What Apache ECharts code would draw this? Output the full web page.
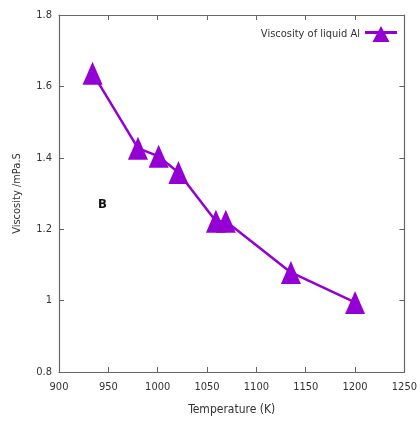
<!DOCTYPE html>
<html><head><meta charset="utf-8">
<script src="https://cdn.jsdelivr.net/npm/echarts@6/dist/echarts.min.js"></script>
<style>html,body{margin:0;padding:0;background:#fff}#c{width:420px;height:425px}</style>
</head><body><div id="c"></div>
<script>
const temperature = [934, 980, 1001, 1021, 1059, 1069, 1135, 1200];
const viscosity = [1.637, 1.427, 1.404, 1.359, 1.222, 1.222, 1.079, 0.995];
const seriesName = 'Viscosity of liquid Al';
const xTitle = 'Temperature (K)';
const yTitle = 'Viscosity /mPa.S';

const font = '"DejaVu Sans Condensed","DejaVu Sans",sans-serif';
const axisCol = '#666';
const purple = '#9400D3';
const chart = echarts.init(document.getElementById('c'));
const data = temperature.map((t, i) => [t, viscosity[i]]);
const hiddenAxis = {show: true, axisLine:{show:true, lineStyle:{color:axisCol, width:1.2}},
  axisTick:{show:true, inside:true, length:5, lineStyle:{color:axisCol}},
  axisLabel:{show:false}, splitLine:{show:false}};
chart.setOption({
  animation:false,
  grid:{left:59, right:14, top:15, bottom:53},
  legend:{show:true, right:18, top:21, align:'right', itemWidth:32, itemHeight:16,
    textStyle:{fontFamily:font, fontSize:11, color:'#333'},
    data:[{name:seriesName, icon:'path://M16,0 L24.5,16 L7.5,16 Z M0,5 L32,5 L32,8 L0,8 Z'}]},
  xAxis:[
    {type:'value', min:900, max:1250, interval:50, name:xTitle, nameLocation:'middle', nameGap:32,
     nameTextStyle:{fontFamily:font, fontSize:12, color:'#333'},
     axisLine:{show:true, lineStyle:{color:axisCol, width:1.2}},
     axisTick:{show:true, inside:true, length:5, lineStyle:{color:axisCol}},
     axisLabel:{fontFamily:font, fontSize:11, color:'#333', margin:10, formatter:v => String(v)},
     splitLine:{show:false}},
    Object.assign({type:'value', min:900, max:1250, interval:50, position:'top'}, hiddenAxis)
  ],
  yAxis:[
    {type:'value', min:0.8, max:1.8, interval:0.2, name:yTitle, nameLocation:'middle', nameGap:36,
     nameTextStyle:{fontFamily:font, fontSize:11, color:'#333'},
     axisLine:{show:true, lineStyle:{color:axisCol, width:1.2}},
     axisTick:{show:true, inside:true, length:5, lineStyle:{color:axisCol}},
     axisLabel:{fontFamily:font, fontSize:11, color:'#333', margin:7,
       formatter:v => String(Math.round(v*10)/10)},
     splitLine:{show:false}},
    Object.assign({type:'value', min:0.8, max:1.8, interval:0.2, position:'right'}, hiddenAxis)
  ],
  graphic:[{type:'text', left:98, top:198, style:{text:'B', font:'bold 13px '+font, fill:'#111'}}],
  series:[{name:seriesName, type:'line', data:data, symbol:'triangle', symbolSize:[20,23],
    showAllSymbol:true,
    lineStyle:{color:purple, width:2.5}, itemStyle:{color:purple}}]
});
</script></body></html>
